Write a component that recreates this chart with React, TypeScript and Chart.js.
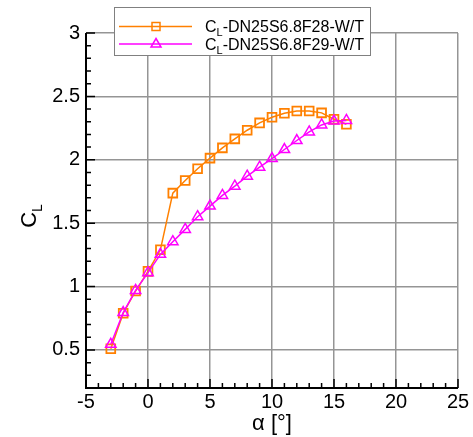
import React, { useEffect, useRef } from 'react';
import { Chart, registerables } from 'chart.js';

Chart.register(...registerables);

// ---- data ----
const alpha = [-3, -2, -1, 0, 1, 2, 3, 4, 5, 6, 7, 8, 9, 10, 11, 12, 13, 14, 15, 16];
const clF28 = [0.51, 0.79, 0.965, 1.12, 1.29, 1.737, 1.837, 1.929, 2.013, 2.094, 2.165, 2.233, 2.291, 2.335, 2.367, 2.385, 2.385, 2.37, 2.32, 2.28];
const clF29 = [0.545, 0.795, 0.97, 1.11, 1.254, 1.354, 1.451, 1.551, 1.635, 1.719, 1.792, 1.871, 1.942, 2.01, 2.081, 2.152, 2.22, 2.275, 2.305, 2.31];
const xTicks = [-5, 0, 5, 10, 15, 20, 25];
const yTicks = [0.5, 1, 1.5, 2, 2.5, 3];
const seriesNames = ['DN25S6.8F28-W/T', 'DN25S6.8F29-W/T'];

const FONT = '"Liberation Sans", Arial, Helvetica, sans-serif';
const ORANGE = '#ff8000';
const MAGENTA = '#ff00ff';
const GRID = '#959595';

function drawSubText(ctx: CanvasRenderingContext2D, x: number, y: number, main: string, sub: string, rest: string, size: number, subSize: number, subDrop: number) {
  ctx.font = `${size}px ${FONT}`;
  ctx.fillText(main, x, y);
  let cx = x + ctx.measureText(main).width;
  ctx.font = `${subSize}px ${FONT}`;
  ctx.fillText(sub, cx, y + subDrop);
  cx += ctx.measureText(sub).width;
  ctx.font = `${size}px ${FONT}`;
  ctx.fillText(rest, cx, y);
}

function measureSub(ctx: CanvasRenderingContext2D, main: string, sub: string, rest: string, size: number, subSize: number) {
  ctx.font = `${size}px ${FONT}`;
  let w = ctx.measureText(main).width + ctx.measureText(rest).width;
  ctx.font = `${subSize}px ${FONT}`;
  w += ctx.measureText(sub).width;
  return w;
}

const decor = {
  id: 'decor',
  afterDatasetsDraw(chart: any) {
    const { ctx, chartArea: a, scales } = chart;
    const x = scales.x;
    const y = scales.y;
    ctx.save();
    // inward ticks
    ctx.strokeStyle = '#000';
    ctx.lineWidth = 1.5;
    ctx.beginPath();
    for (let v = -5; v <= 25; v++) {
      const px = x.getPixelForValue(v);
      const len = v % 5 === 0 ? 9 : 5;
      ctx.moveTo(px, a.bottom);
      ctx.lineTo(px, a.bottom - len);
    }
    for (let i = 2; i <= 30; i++) {
      const py = y.getPixelForValue(i / 10);
      const len = i % 5 === 0 ? 9 : 5;
      ctx.moveTo(a.left, py);
      ctx.lineTo(a.left + len, py);
    }
    ctx.stroke();
    // axis lines
    ctx.lineWidth = 2;
    ctx.beginPath();
    ctx.moveTo(a.left, a.top);
    ctx.lineTo(a.left, a.bottom);
    ctx.lineTo(a.right, a.bottom);
    ctx.stroke();
    ctx.restore();
  },
  afterDraw(chart: any) {
    const { ctx, chartArea: a } = chart;
    ctx.save();
    ctx.fillStyle = '#000';
    ctx.textBaseline = 'alphabetic';
    // x title
    ctx.font = `22px ${FONT}`;
    ctx.textAlign = 'center';
    ctx.fillText('α [°]', (a.left + a.right) / 2, 430);
    // y title
    ctx.textAlign = 'left';
    ctx.save();
    ctx.translate(28, 216);
    ctx.rotate(-Math.PI / 2);
    const w = measureSub(ctx, 'C', 'L', '', 22, 14);
    drawSubText(ctx, -w / 2, 8, 'C', 'L', '', 22, 14, 6);
    ctx.restore();

    // legend
    const bx = 114, by = 7, bw = 256, bh = 48;
    ctx.fillStyle = '#fff';
    ctx.fillRect(bx, by, bw, bh);
    ctx.strokeStyle = '#808080';
    ctx.lineWidth = 1;
    ctx.strokeRect(bx + 0.5, by + 0.5, bw, bh);
    const rows = [
      { color: ORANGE, style: 'rect', y: 26.5, name: seriesNames[0] },
      { color: MAGENTA, style: 'triangle', y: 44, name: seriesNames[1] },
    ];
    rows.forEach((r) => {
      ctx.strokeStyle = r.color;
      ctx.lineWidth = 1.5;
      ctx.beginPath();
      ctx.moveTo(119, r.y);
      ctx.lineTo(192, r.y);
      ctx.stroke();
      ctx.lineWidth = 1.5;
      ctx.beginPath();
      if (r.style === 'rect') {
        ctx.rect(152, r.y - 4, 8, 8);
      } else {
        ctx.moveTo(156, r.y - 5.5);
        ctx.lineTo(161, r.y + 3);
        ctx.lineTo(151, r.y + 3);
        ctx.closePath();
      }
      ctx.stroke();
      ctx.fillStyle = '#000';
      drawSubText(ctx, 205, r.y + 5.5, 'C', 'L', '-' + r.name, 16, 11, 4);
    });
    ctx.restore();
  },
};

export default function App() {
  const ref = useRef<HTMLCanvasElement | null>(null);
  useEffect(() => {
    document.body.style.margin = '0';
    const canvas = ref.current!;
    const chart = new Chart(canvas, {
      type: 'line',
      data: {
        datasets: [
          {
            label: 'CL-' + seriesNames[0],
            data: alpha.map((a, i) => ({ x: a, y: clF28[i] })),
            borderColor: ORANGE,
            borderWidth: 1.5,
            pointStyle: 'rect',
            pointRadius: 6.2,
            pointBorderWidth: 1.8,
            pointBorderColor: ORANGE,
            pointBackgroundColor: 'rgba(0,0,0,0)',
            tension: 0,
            order: 1,
          },
          {
            label: 'CL-' + seriesNames[1],
            data: alpha.map((a, i) => ({ x: a, y: clF29[i] })),
            borderColor: MAGENTA,
            borderWidth: 1.5,
            pointStyle: 'triangle',
            pointRadius: 6,
            pointBorderWidth: 1.5,
            pointBorderColor: MAGENTA,
            pointBackgroundColor: 'rgba(0,0,0,0)',
            tension: 0,
            order: 0,
          },
        ],
      },
      options: {
        animation: false,
        responsive: false,
        layout: { padding: { top: 33, right: 15, left: 0, bottom: 0 } },
        plugins: { legend: { display: false }, tooltip: { enabled: false } },
        scales: {
          x: {
            type: 'linear',
            min: -5,
            max: 25,
            afterBuildTicks: (s: any) => {
              s.ticks = xTicks.map((v) => ({ value: v }));
            },
            afterFit: (s: any) => {
              s.height = 49;
            },
            ticks: {
              autoSkip: false,
              maxRotation: 0,
              padding: 2,
              color: '#000',
              font: { family: FONT, size: 20 },
              callback: (v: any) => String(v),
            },
            grid: { color: GRID, lineWidth: 1.5, drawTicks: false },
            border: { display: false },
          },
          y: {
            type: 'linear',
            min: 0.2,
            max: 3,
            afterBuildTicks: (s: any) => {
              s.ticks = yTicks.map((v) => ({ value: v }));
            },
            afterFit: (s: any) => {
              s.width = 86;
            },
            ticks: {
              autoSkip: false,
              padding: 6,
              color: '#000',
              font: { family: FONT, size: 20 },
              callback: (v: any) => String(v),
            },
            grid: { color: GRID, lineWidth: 1.5, drawTicks: false },
            border: { display: false },
          },
        },
      },
      plugins: [decor],
    });
    return () => chart.destroy();
  }, []);
  return (
    <div style={{ position: 'absolute', left: 0, top: 0, width: 473, height: 437 }}>
      <canvas ref={ref} width={473} height={437} style={{ display: 'block' }} />
    </div>
  );
}
